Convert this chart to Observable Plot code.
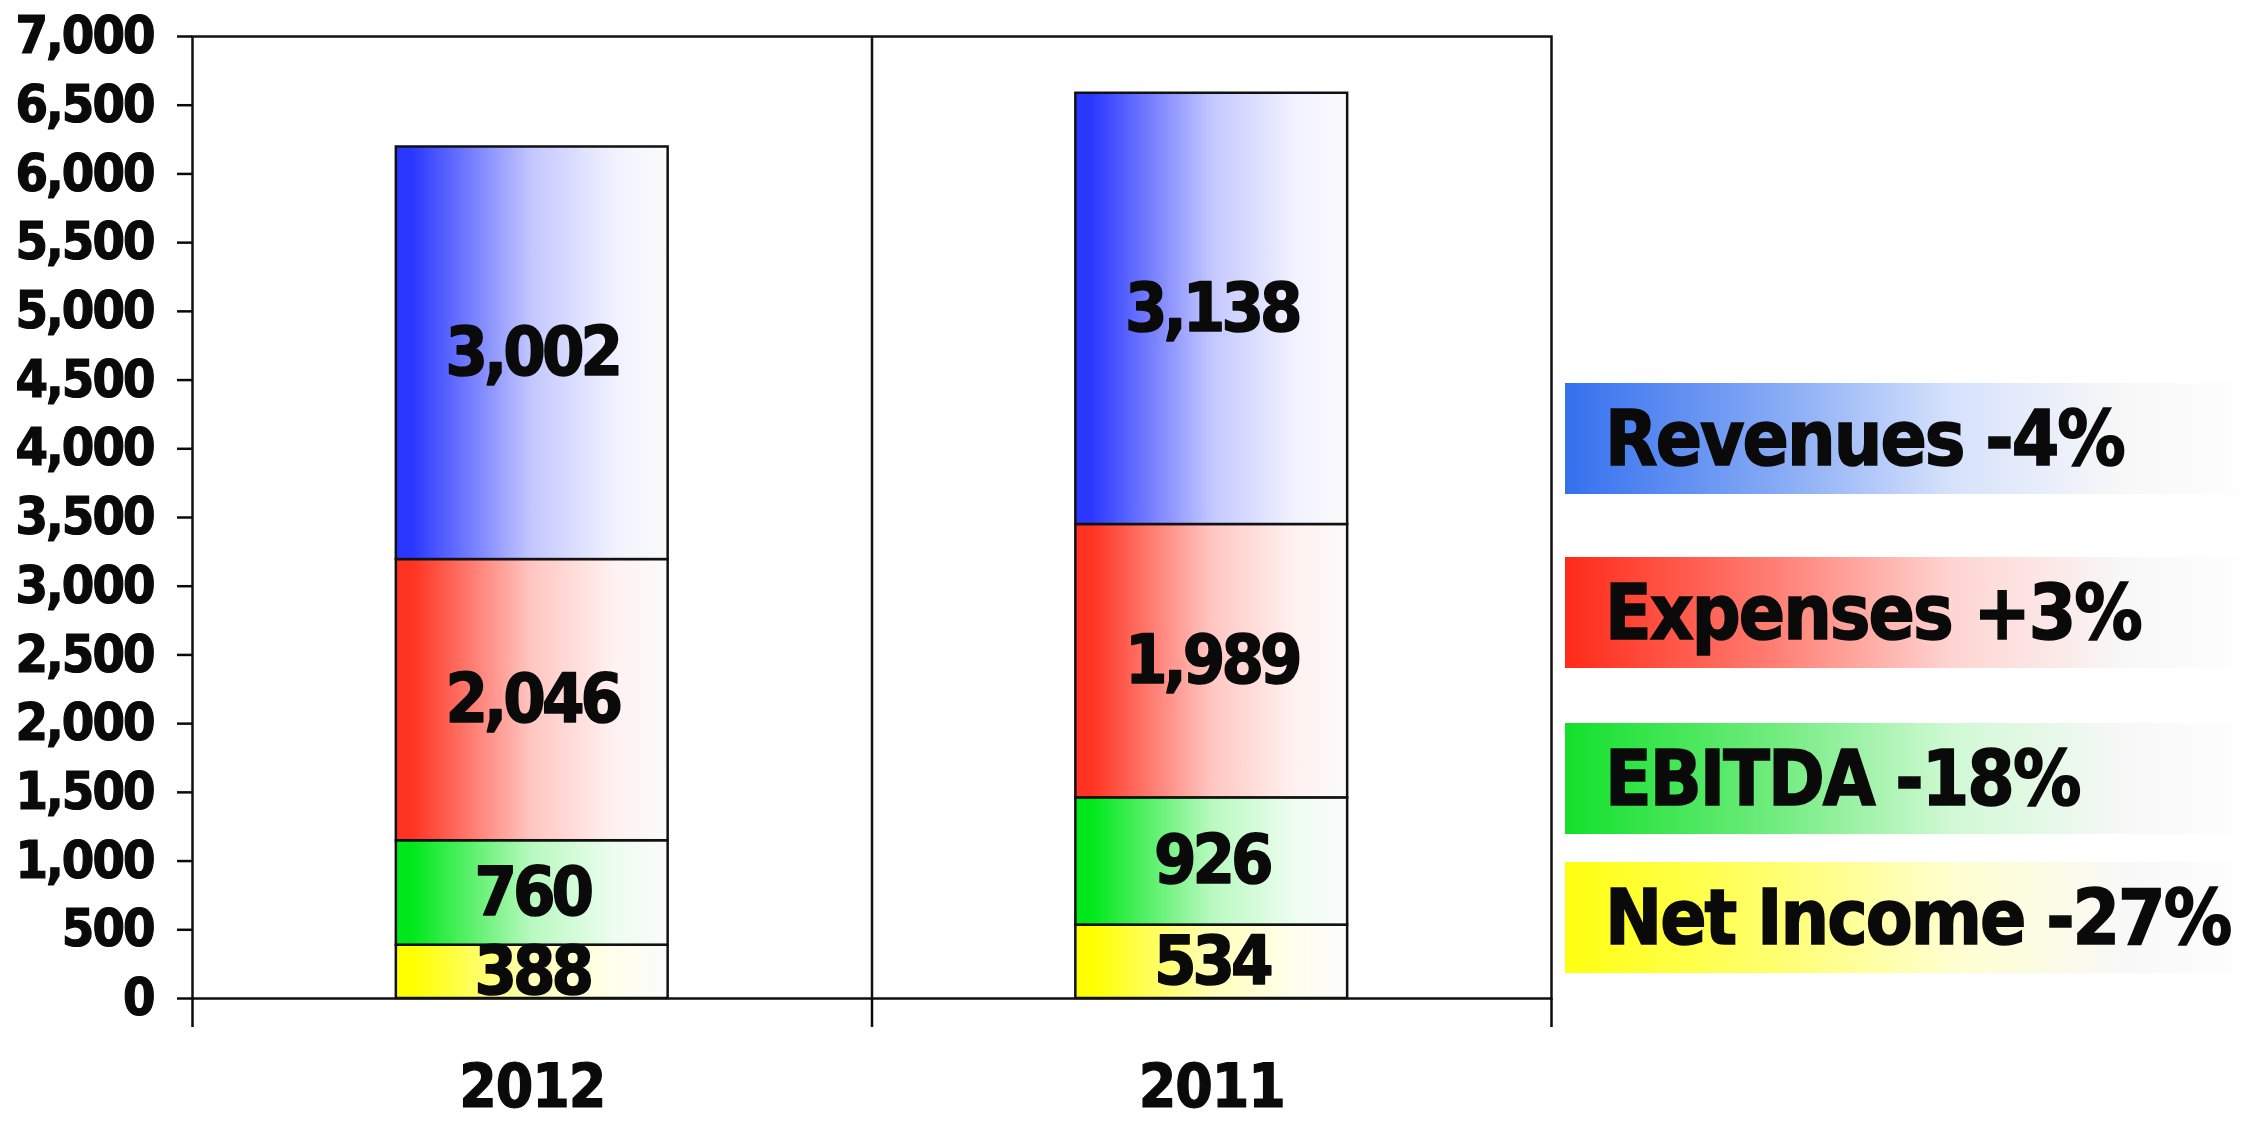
<!DOCTYPE html>
<html>
<head>
<meta charset="utf-8">
<script src="https://cdn.jsdelivr.net/npm/d3@7"></script>
<script src="https://cdn.jsdelivr.net/npm/@observablehq/plot@0.6"></script>
<style>
  html, body { margin: 0; padding: 0; background: #fff; }
  #wrap { position: relative; width: 2267px; height: 1126px; font-family: "DejaVu Sans Condensed", "DejaVu Sans", sans-serif; }
  .legend-item {
    position: absolute; left: 1565px; width: 702px; height: 111px;
    font-weight: bold; font-size: 76px; line-height: 111px; color: #0a0a0a;
    padding-left: 40px; box-sizing: border-box; letter-spacing: -2px; white-space: nowrap;
    -webkit-text-stroke: 1.5px #0a0a0a;
  }
</style>
</head>
<body>
<div id="wrap"></div>
<script>
// Years (left to right) and the four stacked components, bottom to top
const years = ["2012", "2011"];
const seriesNames = ["Net Income", "EBITDA", "Expenses", "Revenues"];
const seriesKeys = ["net", "ebitda", "expenses", "revenues"];
const netIncome = [388, 534];
const ebitda = [760, 926];
const expenses = [2046, 1989];
const revenues = [3002, 3138];
const yTicks = d3.range(0, 7001, 500);

// Legend labels (top to bottom) with year-over-year change
const legendLabels = ["Revenues -4%", "Expenses +3%", "EBITDA -18%", "Net Income -27%"];
const legendKeys = ["revenues", "expenses", "ebitda", "net"];

// Gradient base colours for each component
const barColors = {revenues: "#2a38ff", expenses: "#ff3322", ebitda: "#00e81c", net: "#ffff00"};
const legendColors = {revenues: "#3470ee", expenses: "#ff2a18", ebitda: "#12e02a", net: "#ffff10"};

const values = [netIncome, ebitda, expenses, revenues];
const rows = years.flatMap((year, i) => {
  let acc = 0;
  return seriesKeys.map((key, k) => {
    const v = values[k][i];
    const row = {i, year, key, series: seriesNames[k], value: v, y1: acc, y2: acc + v};
    acc += v;
    return row;
  });
});

const fmt = d3.format(",");

const chart = Plot.plot({
  width: 2267,
  height: 1126,
  marginLeft: 192,
  marginRight: 716,
  marginTop: 36,
  marginBottom: 128,
  style: {fontFamily: "'DejaVu Sans Condensed', 'DejaVu Sans', sans-serif", fontWeight: "bold", color: "#0a0a0a", background: "#fff"},
  x: {domain: [-0.5, years.length - 0.5]},
  y: {domain: [0, 7000]},
  color: {type: "identity"},
  marks: [
    Plot.rect(rows, {
      x1: d => d.i - 0.2,
      x2: d => d.i + 0.2,
      y1: "y1",
      y2: "y2",
      fill: d => `url(#grad-${d.key})`,
      stroke: "#111",
      strokeWidth: 2.5
    }),
    Plot.text(rows, {
      x: "i",
      y: d => (d.y1 + d.y2) / 2,
      text: d => fmt(d.value),
      fontSize: 68,
      fontWeight: "bold",
      fill: "#0a0a0a",
      stroke: "#0a0a0a",
      strokeWidth: 1.5,
      className: "value-label"
    }),
    Plot.ruleX(d3.range(0.5, years.length - 0.5, 1), {stroke: "#111", strokeWidth: 2.5}),
    Plot.frame({stroke: "#111", strokeWidth: 2.5}),
    Plot.axisY({
      ticks: yTicks,
      tickSize: 15,
      tickPadding: 24,
      tickFormat: fmt,
      fontSize: 52,
      fontWeight: "bold",
      strokeWidth: 2.5,
      label: null
    }),
    Plot.axisX({
      ticks: d3.range(-0.5, years.length, 1),
      tickSize: 29,
      tickFormat: () => "",
      strokeWidth: 2.5,
      label: null
    }),
    Plot.axisX({
      ticks: d3.range(years.length),
      tickSize: 0,
      tickPadding: 66,
      tickFormat: i => years[i],
      fontSize: 60,
      fontWeight: "bold",
      label: null
    })
  ]
});

// Heavier, tighter lettering for axis and value labels
const svg = d3.select(chart);
svg.selectAll("g[aria-label='y-axis tick label'] text")
  .attr("stroke", "#0a0a0a").attr("stroke-width", 1.2).style("letter-spacing", "-2px");
svg.selectAll("g[aria-label='x-axis tick label'] text")
  .attr("stroke", "#0a0a0a").attr("stroke-width", 1.2).style("letter-spacing", "-1px");
svg.selectAll("g[aria-label='text'] text").style("letter-spacing", "-4px");

// Horizontal colour-to-white gradients used by the bar segments
const defs = svg.insert("defs", ":first-child");
for (const key of seriesKeys) {
  const c = barColors[key];
  const g = defs.append("linearGradient")
    .attr("id", `grad-${key}`)
    .attr("x1", "0%").attr("x2", "100%").attr("y1", "0%").attr("y2", "0%");
  g.append("stop").attr("offset", "0%").attr("stop-color", c);
  g.append("stop").attr("offset", "6%").attr("stop-color", c);
  g.append("stop").attr("offset", "50%").attr("stop-color", d3.interpolateRgb(c, "#ffffff")(0.72));
  g.append("stop").attr("offset", "80%").attr("stop-color", d3.interpolateRgb(c, "#ffffff")(0.93));
  g.append("stop").attr("offset", "100%").attr("stop-color", "#fbfbfb");
}

const wrap = document.getElementById("wrap");
wrap.appendChild(chart);

// Legend boxes to the right of the plot
const legendTops = [383, 557, 723, 862];
legendLabels.forEach((label, j) => {
  const key = legendKeys[j];
  const c = legendColors[key];
  const div = document.createElement("div");
  div.className = "legend-item";
  div.style.top = legendTops[j] + "px";
  div.style.background = `linear-gradient(to right, ${c} 0%, ${d3.interpolateRgb(c, "#fff")(0.4)} 30%, ${d3.interpolateRgb(c, "#fff")(0.8)} 55%, #f8f8f8 80%, #ffffff 100%)`;
  div.textContent = label;
  wrap.appendChild(div);
});
</script>
</body>
</html>
